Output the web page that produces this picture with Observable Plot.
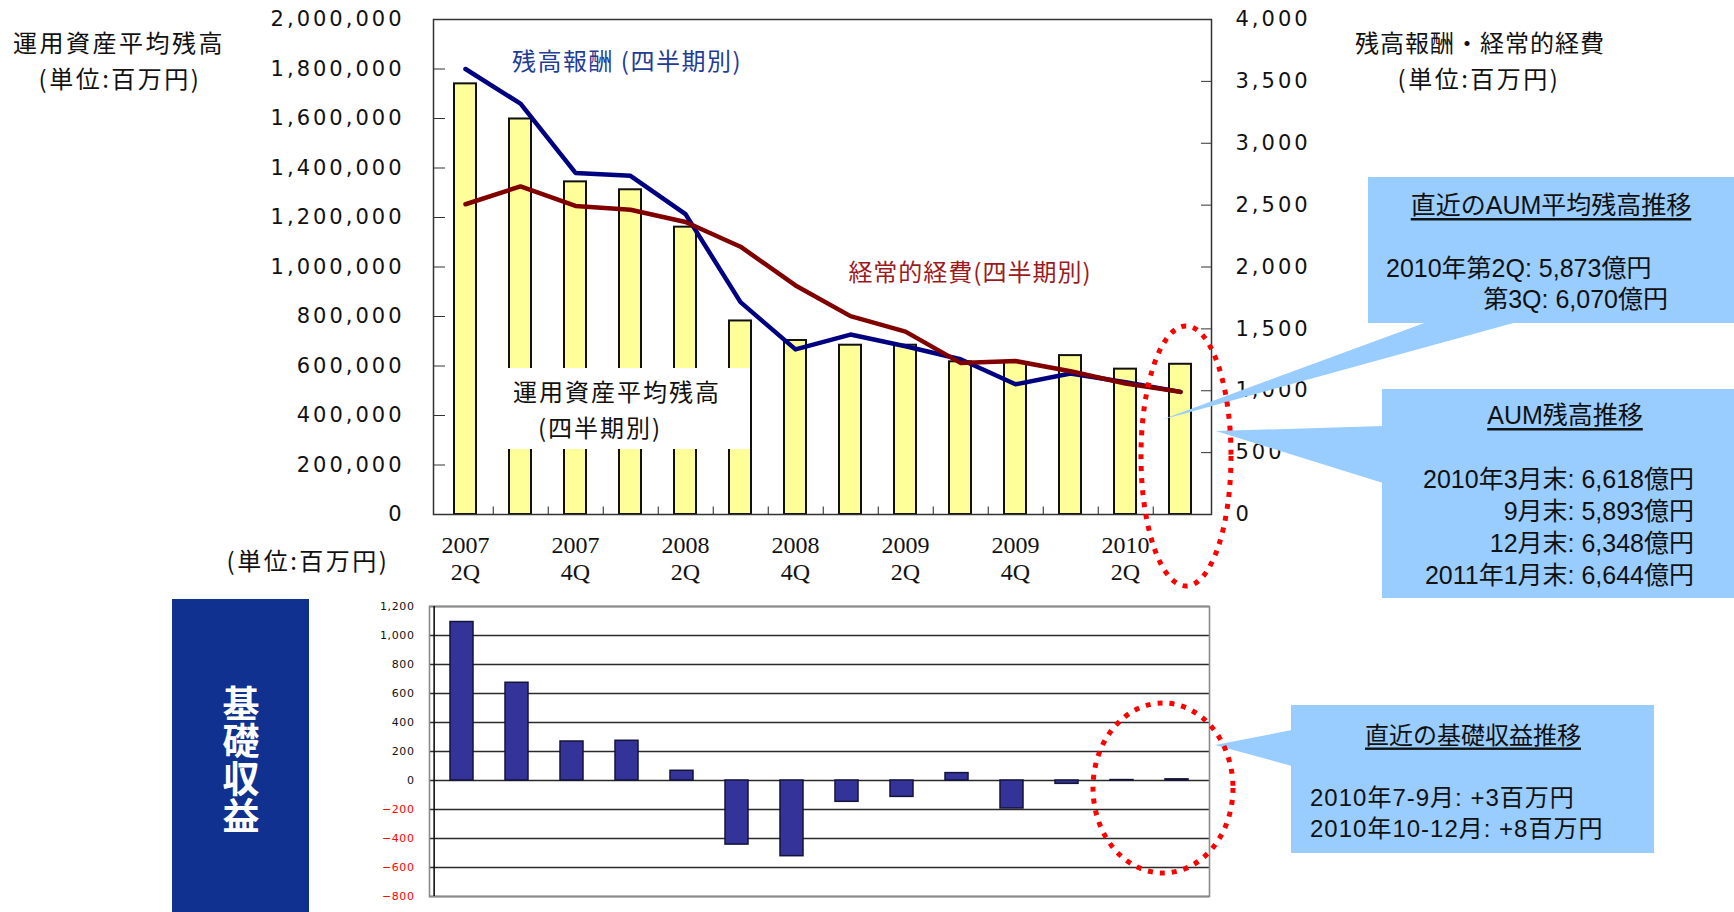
<!DOCTYPE html>
<html>
<head>
<meta charset="utf-8">
<script src="https://cdn.jsdelivr.net/npm/d3@7"></script>
<script src="https://cdn.jsdelivr.net/npm/@observablehq/plot@0.6"></script>
<style>
  body { margin: 0; background: #fff; }
  #page { position: relative; width: 1734px; height: 912px; overflow: hidden; }
  #upper, #lower { position: absolute; left: 0; }
  #upper { top: 0; }
  #lower { top: 590px; }
  #notes { position: absolute; left: 0; top: 0; }
</style>
</head>
<body>
<div id="page">
  <div id="upper"></div>
  <div id="lower"></div>
  <svg id="notes" width="1734" height="912"></svg>
</div>
<script>
// Quarters shown on both panels
const quarters = ["2007 2Q", "2007 3Q", "2007 4Q", "2008 1Q", "2008 2Q", "2008 3Q", "2008 4Q",
                  "2009 1Q", "2009 2Q", "2009 3Q", "2009 4Q", "2010 1Q", "2010 2Q", "2010 3Q"];

// Average assets under management per quarter (百万円, left axis)
const aumAverage = [1740000, 1598000, 1344000, 1312000, 1161000, 782000, 703000,
                    684000, 684000, 617000, 614000, 642000, 587300, 607000];

// Balance-based fees per quarter (百万円, right axis)
const balanceFees = [3600, 3320, 2760, 2737, 2427, 1716, 1334,
                     1454, 1360, 1255, 1052, 1140, 1068, 991];

// Recurring expenses per quarter (百万円, right axis)
const recurringExpenses = [2507, 2651, 2493, 2463, 2364, 2164, 1851,
                           1603, 1478, 1225, 1240, 1157, 1059, 991];

// Basic profit per quarter (百万円, lower panel)
const basicProfit = [1093, 674, 269, 274, 67, -442, -522, -147, -113, 51, -193, -23, 3, 8];

// Axis ticks
const aumTicks = [0, 200000, 400000, 600000, 800000, 1000000, 1200000, 1400000, 1600000, 1800000, 2000000];
const feeTicks = [0, 500, 1000, 1500, 2000, 2500, 3000, 3500, 4000];
const profitTicks = [-800, -600, -400, -200, 0, 200, 400, 600, 800, 1000, 1200];
const labelledQuarters = ["2007 2Q", "2007 4Q", "2008 2Q", "2008 4Q", "2009 2Q", "2009 4Q", "2010 2Q"];

// The right axis (0–4,000) shares the left scale (0–2,000,000)
const RIGHT_TO_LEFT = 500;

const topRows = quarters.map((quarter, i) => ({
  quarter, aum: aumAverage[i], fee: balanceFees[i], expense: recurringExpenses[i]
}));
const bottomRows = quarters.map((quarter, i) => ({quarter, profit: basicProfit[i]}));

const numberFont = "DejaVu Sans";
const comma = d3.format(",");

// ---- Upper panel: AUM bars with fee / expense lines ----
const topWidth = 1734, topHeight = 600;
const topLeft = 433, topRight = 1211;
const topStep = (topRight - topLeft) / quarters.length;

const upper = Plot.plot({
  width: topWidth,
  height: topHeight,
  marginLeft: topLeft,
  marginRight: topWidth - topRight,
  marginTop: 19,
  marginBottom: 86,
  style: {background: "transparent", overflow: "visible"},
  x: {type: "band", domain: quarters, paddingInner: 0.6, paddingOuter: 0.3, label: null},
  y: {domain: [0, 2000000], label: null},
  marks: [
    Plot.barY(topRows, {x: "quarter", y: "aum", fill: "#ffff99", stroke: "#111", strokeWidth: 2}),
    Plot.ruleX(quarters.slice(0, -1), {dx: topStep / 2, y1: 0, y2: 30000, stroke: "#444", strokeWidth: 1.2}),
    Plot.lineY(topRows, {x: "quarter", y: d => d.fee * RIGHT_TO_LEFT, stroke: "#000080", strokeWidth: 4.5}),
    Plot.lineY(topRows, {x: "quarter", y: d => d.expense * RIGHT_TO_LEFT, stroke: "#800000", strokeWidth: 4.5}),
    Plot.frame({stroke: "#333", strokeWidth: 1.5}),
    // inward ticks, left and right
    Plot.axisY({ticks: aumTicks, tickSize: -12, tickFormat: () => "", label: null, stroke: "#333"}),
    Plot.axisY({anchor: "right", ticks: feeTicks.map(v => v * RIGHT_TO_LEFT), tickSize: -11, tickFormat: () => "", label: null, stroke: "#333"}),
    // tick labels
    Plot.axisY({ticks: aumTicks, tickSize: 0, tickPadding: 29, tickFormat: comma, label: null,
                fontSize: 21, fontFamily: numberFont, fill: "#111"}),
    Plot.axisY({anchor: "right", ticks: feeTicks.map(v => v * RIGHT_TO_LEFT), tickSize: 0, tickPadding: 24,
                tickFormat: v => comma(v / RIGHT_TO_LEFT), label: null,
                fontSize: 21, fontFamily: numberFont, fill: "#111"}),
    Plot.axisX({ticks: labelledQuarters, tickSize: 0, tickPadding: 20, label: null,
                tickFormat: q => q.replace(" ", "\n"), lineHeight: 1.11,
                fontSize: 24, fontFamily: "Liberation Serif", fill: "#111"})
  ]
});
d3.select(upper).selectAll('g[aria-label="y-axis tick label"]').attr("letter-spacing", 3);
document.getElementById("upper").append(upper);

// ---- Lower panel: basic profit bars ----
const lower = Plot.plot({
  width: 1734,
  height: 322,
  marginLeft: 429,
  marginRight: 1734 - 1209,
  marginTop: 16,
  marginBottom: 16,
  style: {background: "transparent", overflow: "visible"},
  x: {type: "band", domain: quarters, paddingInner: 0.58, paddingOuter: 0.29, axis: null},
  y: {domain: [-800, 1200], label: null},
  marks: [
    Plot.ruleY(profitTicks, {stroke: "#2a2a2a", strokeWidth: 1.3}),
    Plot.barY(bottomRows, {x: "quarter", y: "profit", fill: "#333399", stroke: "#14143a", strokeWidth: 1.5}),
    Plot.frame({stroke: "#8a8a8a", strokeWidth: 1.6}),
    Plot.ruleX([quarters[0]], {dx: -(780 / 14) / 2, stroke: "#111", strokeWidth: 1.6}),
    Plot.axisY({ticks: profitTicks.filter(v => v >= 0), tickSize: 0, tickPadding: 15, label: null,
                tickFormat: comma, fontSize: 11, fontFamily: numberFont, fill: "#111"}),
    Plot.axisY({ticks: profitTicks.filter(v => v < 0), tickSize: 0, tickPadding: 15, label: null,
                tickFormat: v => "\u2212" + comma(-v), fontSize: 11, fontFamily: numberFont, fill: "#ff0000"})
  ]
});
d3.select(lower).selectAll('g[aria-label="y-axis tick label"]').attr("letter-spacing", 0.6);
document.getElementById("lower").append(lower);

// ---- Titles, callouts and highlight rings ----
const notes = d3.select("#notes");
const cjk = "'Noto Sans CJK JP', sans-serif";
const latin = "'Liberation Sans', 'Noto Sans CJK JP', sans-serif";

function note(x, y, str, {size = 24, anchor = "middle", fill = "#111", family = cjk, weight = 400, spacing = 0, underline = false} = {}) {
  return notes.append("text")
    .attr("x", x).attr("y", y)
    .attr("text-anchor", anchor)
    .attr("dominant-baseline", "central")
    .attr("font-family", family)
    .attr("font-size", size)
    .attr("font-weight", weight)
    .attr("letter-spacing", spacing)
    .attr("fill", fill)
    .attr("text-decoration", underline ? "underline" : null)
    .text(str);
}

// axis unit titles
note(119, 41, "運用資産平均残高", {spacing: 2.5});
note(120, 77, "(単位:百万円)", {spacing: 2.5});
note(1480, 41, "残高報酬・経常的経費", {spacing: 1});
note(1479, 77, "(単位:百万円)", {spacing: 2.5});
note(308, 559, "(単位:百万円)", {spacing: 2.5});

// series captions inside the upper panel
note(627, 59, "残高報酬 (四半期別)", {fill: "#1f3c96", spacing: 1.5});
note(970, 270, "経常的経費(四半期別)", {fill: "#9c1a1e", spacing: 1});
notes.append("rect").attr("x", 502).attr("y", 368).attr("width", 248).attr("height", 81).attr("fill", "#fff");
note(617, 390, "運用資産平均残高", {spacing: 2});
note(600, 426, "(四半期別)", {spacing: 2});

// callout boxes
const calloutFill = "#99ccff";
notes.append("polygon").attr("points", "1427,322 1517,322 1161,420").attr("fill", calloutFill);
notes.append("rect").attr("x", 1368).attr("y", 177).attr("width", 366).attr("height", 146).attr("fill", calloutFill);
note(1551, 205, "直近のAUM平均残高推移", {family: latin, size: 25, underline: true});
note(1386, 268, "2010年第2Q: 5,873億円", {family: latin, size: 25, anchor: "start"});
note(1668, 299, "第3Q: 6,070億円", {family: latin, size: 25, anchor: "end"});

notes.append("polygon").attr("points", "1383,426 1383,483 1216,431").attr("fill", calloutFill);
notes.append("rect").attr("x", 1382).attr("y", 389).attr("width", 352).attr("height", 209).attr("fill", calloutFill);
note(1565, 415, "AUM残高推移", {family: latin, size: 25, underline: true});
note(1694, 479, "2010年3月末: 6,618億円", {family: latin, size: 25, anchor: "end"});
note(1694, 511, "9月末: 5,893億円", {family: latin, size: 25, anchor: "end"});
note(1694, 543, "12月末: 6,348億円", {family: latin, size: 25, anchor: "end"});
note(1694, 575, "2011年1月末: 6,644億円", {family: latin, size: 25, anchor: "end"});

notes.append("polygon").attr("points", "1292,730 1292,766 1215,745").attr("fill", calloutFill);
notes.append("rect").attr("x", 1291).attr("y", 705).attr("width", 363).attr("height", 148).attr("fill", calloutFill);
note(1473, 735, "直近の基礎収益推移", {family: latin, size: 24, underline: true});
note(1310, 797, "2010年7-9月: +3百万円", {family: latin, size: 24, anchor: "start", spacing: 1});
note(1310, 828, "2010年10-12月: +8百万円", {family: latin, size: 24, anchor: "start", spacing: 1});

// highlight rings around the latest quarters
notes.append("ellipse").attr("cx", 1186).attr("cy", 456).attr("rx", 45).attr("ry", 130)
  .attr("fill", "none").attr("stroke", "#ff0000").attr("stroke-width", 5).attr("stroke-dasharray", "5 7");
notes.append("ellipse").attr("cx", 1163).attr("cy", 788).attr("rx", 70).attr("ry", 85)
  .attr("fill", "none").attr("stroke", "#ff0000").attr("stroke-width", 5).attr("stroke-dasharray", "5 7");

// section label for the lower panel, set vertically
notes.append("rect").attr("x", 172).attr("y", 599).attr("width", 137).attr("height", 313).attr("fill", "#10318f");
notes.append("text")
  .attr("x", 241).attr("y", 685)
  .attr("writing-mode", "vertical-rl")
  .attr("text-anchor", "start")
  .attr("font-family", cjk)
  .attr("font-size", 37)
  .attr("font-weight", 700)
  .attr("letter-spacing", 0.5)
  .attr("fill", "#fff")
  .text("基礎収益");
</script>
</body>
</html>
